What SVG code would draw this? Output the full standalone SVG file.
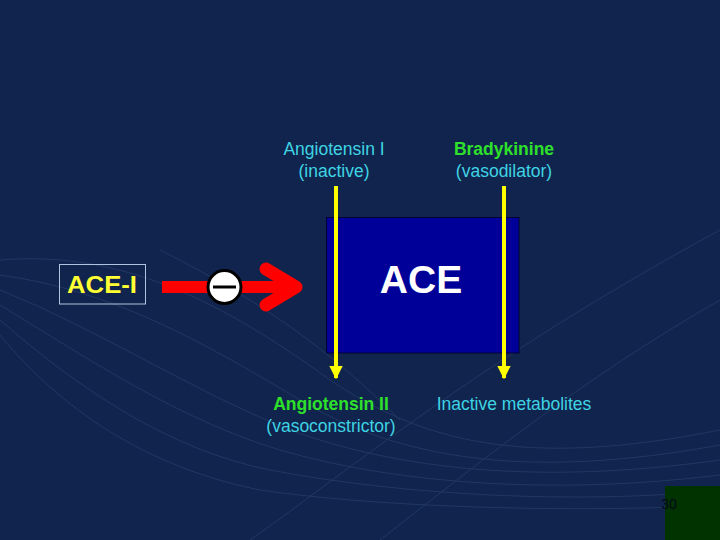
<svg xmlns="http://www.w3.org/2000/svg" width="720" height="540" viewBox="0 0 720 540">
<defs>
<style>
.lbl{font-family:"Liberation Sans",Arial,sans-serif;font-size:17.5px;text-anchor:middle}
.cyan{fill:#3fd3e3}
.green{fill:#2fe02a;font-weight:bold}
.swoosh{fill:none;stroke:#5a7db0;stroke-width:1}
.conn{stroke:#ffff00;stroke-width:4;fill:none;marker-end:url(#yarrow)}
</style>
<marker id="yarrow" viewBox="0 0 10 10" refX="9" refY="5" markerWidth="3.4" markerHeight="3.4" orient="auto" markerUnits="strokeWidth">
<path d="M0,0 L10,5 L0,10 z" fill="#ffff00"/>
</marker>
</defs>
<rect width="720" height="540" fill="#10244d"/>
<g id="background" opacity="0.22">
<path class="swoosh" d="M0,260 C120,250 220,300 330,380 C420,440 520,470 720,430"/>
<path class="swoosh" d="M0,275 C110,290 200,340 300,400 C400,460 530,480 720,445"/>
<path class="swoosh" d="M0,290 C100,330 190,390 290,430 C400,470 540,485 720,460"/>
<path class="swoosh" d="M0,305 C90,360 180,420 280,450 C400,485 560,495 720,475"/>
<path class="swoosh" d="M0,320 C80,390 170,450 270,470 C400,495 580,505 720,490"/>
<path class="swoosh" d="M0,335 C70,420 160,470 260,490 C400,510 600,512 720,505"/>
<path class="swoosh" d="M250,540 C350,470 480,360 720,230"/>
<path class="swoosh" d="M380,540 C470,470 580,380 720,300"/>
<path class="swoosh" d="M160,250 C260,300 330,350 400,420"/>
</g>
<g id="pagebox">
<rect x="665" y="486" width="55" height="54" fill="#003300"/>
<text x="669" y="509" font-family="Liberation Sans,Arial,sans-serif" font-size="14" fill="#05081c" text-anchor="middle">30</text>
</g>
<g id="ace">
<rect x="326.5" y="217.5" width="192.5" height="135.5" fill="#000099" stroke="#000033" stroke-width="1"/>
<text x="421" y="293" font-family="Liberation Sans,Arial,sans-serif" font-size="39" font-weight="bold" fill="#ffffff" text-anchor="middle">ACE</text>
</g>
<g id="ace-i">
<rect x="59.5" y="264.5" width="86" height="39.5" fill="none" stroke="#b0c4e0" stroke-width="1"/>
<text x="102" y="293" font-family="Liberation Sans,Arial,sans-serif" font-size="24" font-weight="bold" fill="#ffff33" text-anchor="middle" textLength="70" lengthAdjust="spacingAndGlyphs">ACE-I</text>
</g>
<g id="angiotensin-i">
<text class="lbl cyan" x="334" y="155">Angiotensin I</text>
<text class="lbl cyan" x="334" y="177">(inactive)</text>
</g>
<g id="bradykinine">
<text class="lbl green" x="504" y="155">Bradykinine</text>
<text class="lbl cyan" x="504" y="177">(vasodilator)</text>
</g>
<g id="angiotensin-ii">
<text class="lbl green" x="331" y="410">Angiotensin II</text>
<text class="lbl cyan" x="331" y="432">(vasoconstrictor)</text>
</g>
<g id="inactive-metabolites">
<text class="lbl cyan" x="514" y="410">Inactive metabolites</text>
</g>
<g id="connectors">
<line class="conn" x1="336" y1="186" x2="336" y2="378"/>
<line class="conn" x1="504" y1="186" x2="504" y2="378"/>
<g id="inhibition">
<line x1="162" y1="287" x2="294" y2="287" stroke="#ff0000" stroke-width="12"/>
<polyline points="266,269 296,287 266,305" fill="none" stroke="#ff0000" stroke-width="13" stroke-linecap="round" stroke-linejoin="round"/>
<circle cx="224.5" cy="287" r="16.5" fill="#ffffff" stroke="#000000" stroke-width="3"/>
<line x1="213" y1="287" x2="236" y2="287" stroke="#000000" stroke-width="3"/>
</g>
</g>
</svg>
